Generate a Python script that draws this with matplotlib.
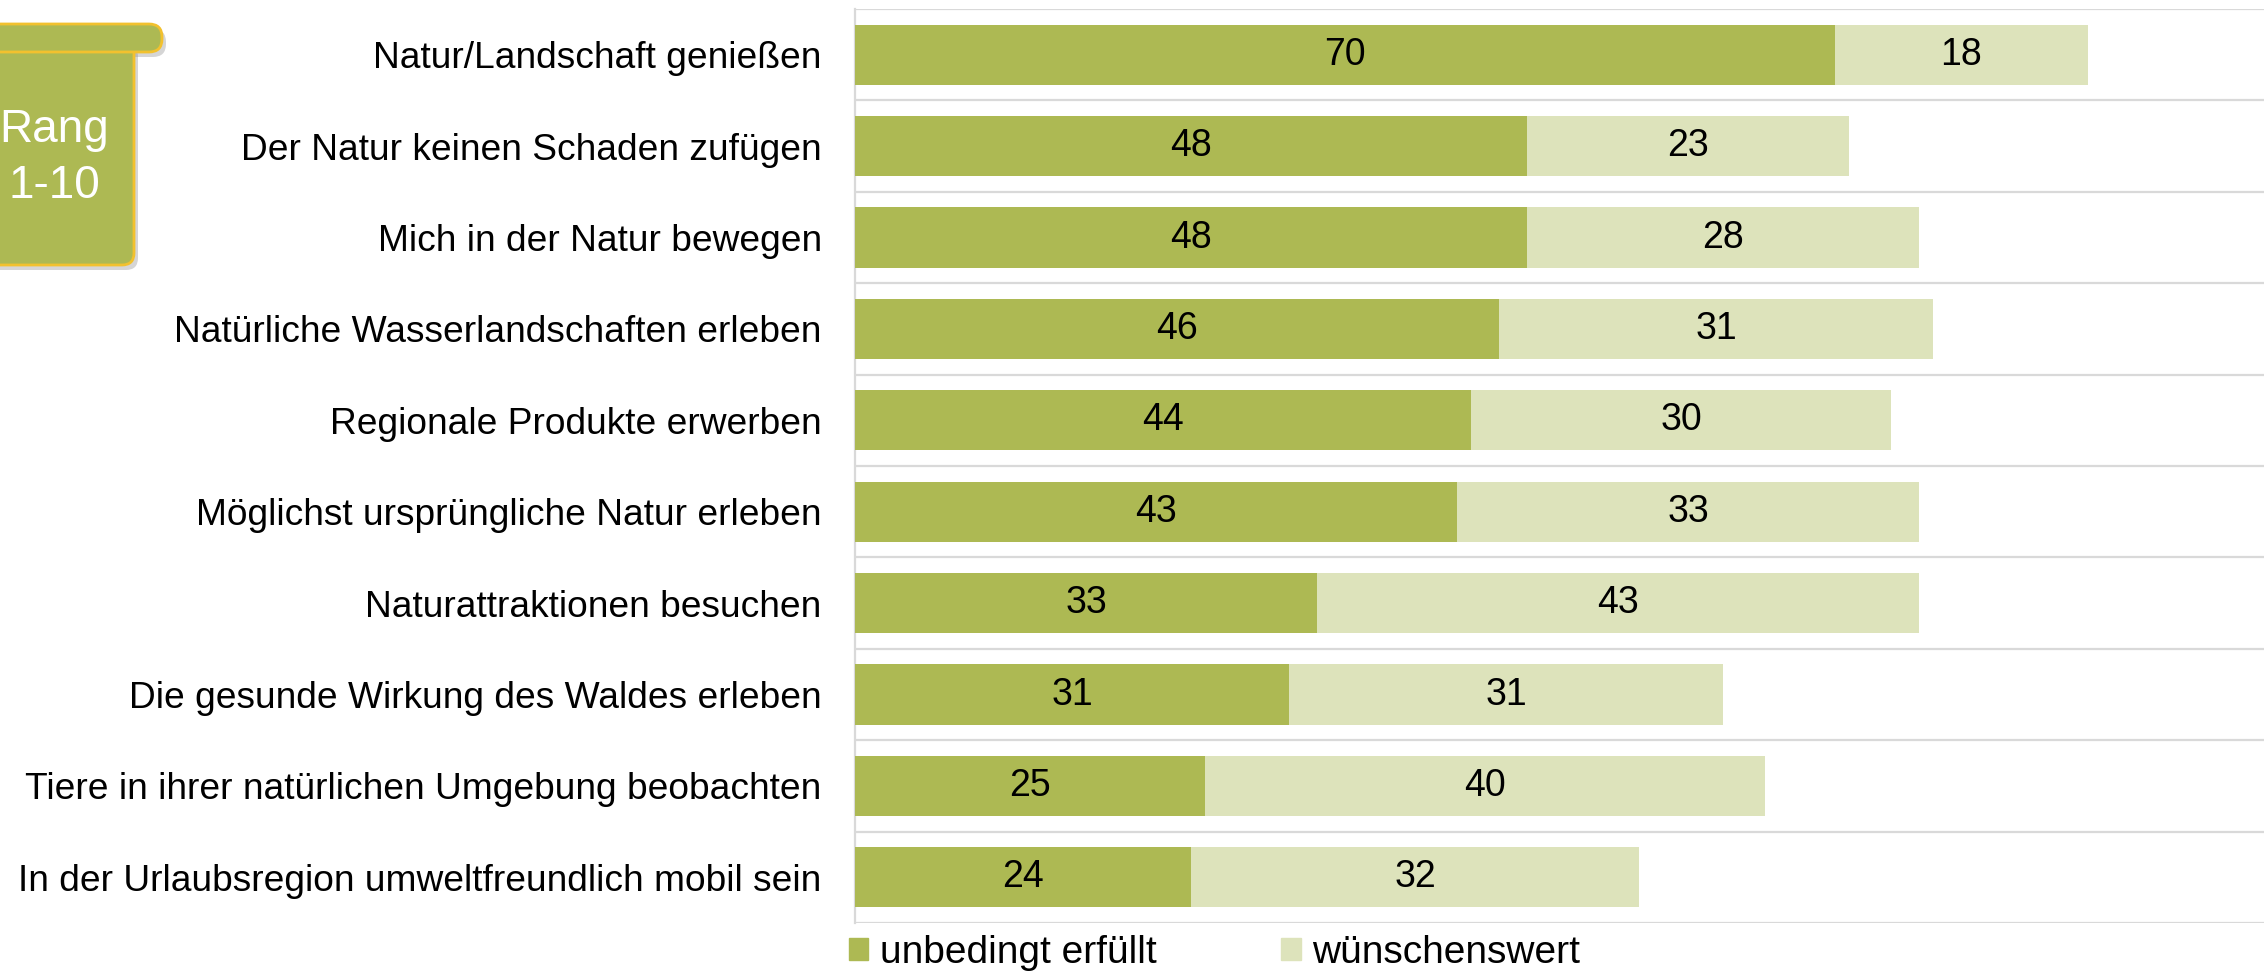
import numpy as np
import matplotlib.pyplot as plt
from matplotlib.patches import FancyBboxPatch, Patch

plt.rcParams['font.family'] = ['Liberation Sans', 'DejaVu Sans']

# data
categories = [
    "Natur/Landschaft genießen",
    "Der Natur keinen Schaden zufügen",
    "Mich in der Natur bewegen",
    "Natürliche Wasserlandschaften erleben",
    "Regionale Produkte erwerben",
    "Möglichst ursprüngliche Natur erleben",
    "Naturattraktionen besuchen",
    "Die gesunde Wirkung des Waldes erleben",
    "Tiere in ihrer natürlichen Umgebung beobachten",
    "In der Urlaubsregion umweltfreundlich mobil sein",
]
unbedingt = [70, 48, 48, 46, 44, 43, 33, 31, 25, 24]
wuenschenswert = [18, 23, 28, 31, 30, 33, 43, 31, 40, 32]
series_names = ["unbedingt erfüllt", "wünschenswert"]

c_dark = "#adb953"
c_light = "#dde3bb"
c_grid = "#d9d9d9"

W, H = 2264, 972
fig = plt.figure(figsize=(W / 100, H / 100), dpi=100)
ax = fig.add_axes([855 / W, 49 / H, 1 - 855 / W, (923 - 9) / H])

y = np.arange(len(categories))
a = np.array(unbedingt)
b = np.array(wuenschenswert)
ax.barh(y, a, height=0.66, color=c_dark, zorder=3)
ax.barh(y, b, left=a, height=0.66, color=c_light, zorder=3)

for i in range(len(categories)):
    ax.text(a[i] / 2, y[i], str(a[i]), ha='center', va='center', fontsize=27, zorder=4)
    ax.text(a[i] + b[i] / 2, y[i], str(b[i]), ha='center', va='center', fontsize=27, zorder=4)

ax.set_xlim(0, 100.6)
ax.set_ylim(len(categories) - 0.5, -0.5)
for yy in np.arange(-0.5, len(categories), 1.0):
    ax.axhline(yy, color=c_grid, lw=1.6, zorder=1)

ax.set_yticks(y)
ax.set_yticklabels(categories, fontsize=26.7)
ax.tick_params(axis='y', length=0, pad=24)
ax.set_xticks([])
for s in ['top', 'right', 'bottom']:
    ax.spines[s].set_visible(False)
ax.spines['left'].set_color(c_grid)
ax.spines['left'].set_linewidth(1.6)

handles = [Patch(color=c_dark), Patch(color=c_light)]
fig.legend(handles, series_names, loc='center left', bbox_to_anchor=(849 / W, 0.02),
           ncol=2, frameon=False, fontsize=28, handlelength=0.5, handleheight=0.5,
           handletextpad=0.3, columnspacing=3.2, borderpad=0, borderaxespad=0)

# "Rang 1-10" box in pixel coordinates
ov = fig.add_axes([0, 0, 1, 1], zorder=5)
ov.set_xlim(0, W)
ov.set_ylim(H, 0)
ov.axis('off')
ov.patch.set_alpha(0)

for dx, dy, fc, ec, al in [(4, 5, '#888888', 'none', 0.35), (0, 0, c_dark, '#f2c12e', 1)]:
    ov.add_patch(FancyBboxPatch((-40 + dx, 40 + dy), 174, 225,
                                boxstyle="round,pad=0,rounding_size=12",
                                fc=fc, ec=ec, lw=2, alpha=al))
    ov.add_patch(FancyBboxPatch((-40 + dx, 24 + dy), 202, 28,
                                boxstyle="round,pad=0,rounding_size=13",
                                fc=fc, ec=ec, lw=2, alpha=al))
ov.text(54, 158, "Rang\n1-10", color='white', fontsize=33, ha='center', va='center',
        linespacing=1.35)

fig.savefig("out.png", dpi=100)
